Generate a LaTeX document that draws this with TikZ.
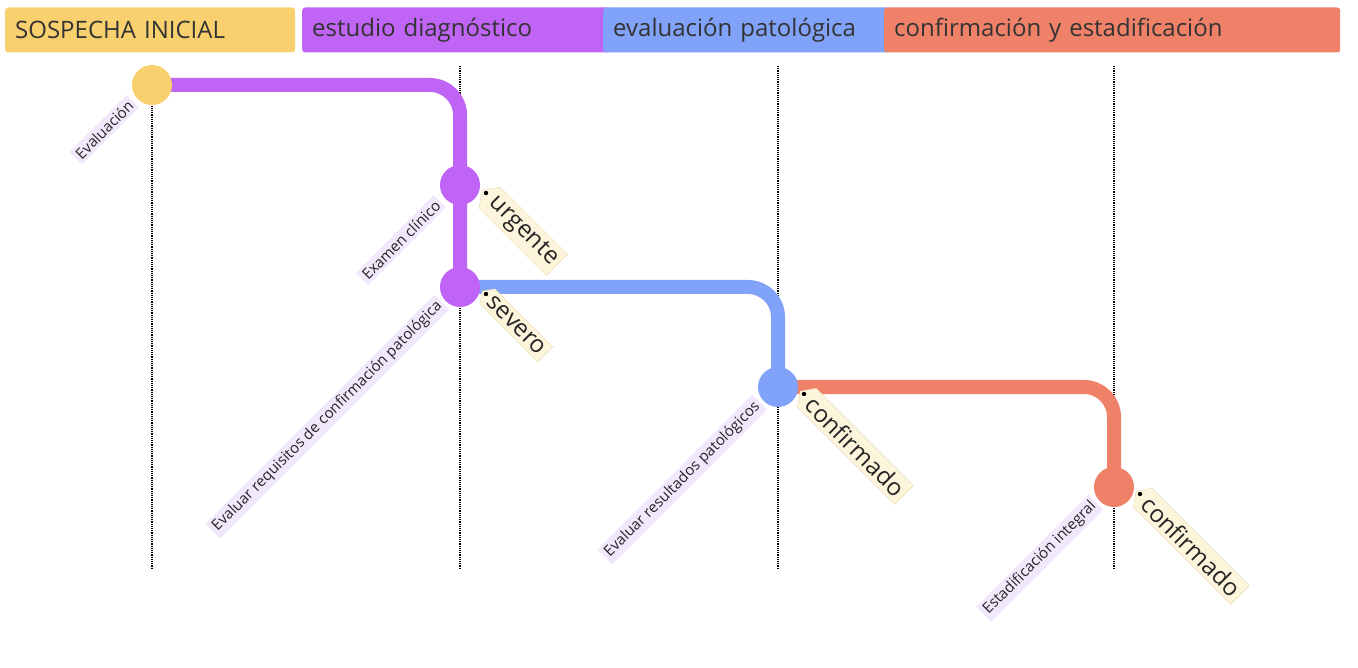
\documentclass[tikz,border=0pt]{standalone}
\usepackage{fontspec}
\setmainfont{Open Sans}
\usetikzlibrary{shapes.symbols}
\definecolor{cy}{HTML}{F8D06E}
\definecolor{cp}{HTML}{BF64F5}
\definecolor{cb}{HTML}{80A2F8}
\definecolor{cr}{HTML}{EF8169}
\definecolor{lbl}{HTML}{F1E9FB}
\definecolor{tagf}{HTML}{FDF4DC}
\definecolor{tagd}{HTML}{E8DAAE}
\tikzset{
 hdr/.style={rounded corners=3pt,minimum height=45pt,anchor=west,inner xsep=10pt,text=black!80,font=\fontsize{24}{24}\selectfont,align=left},
 vl/.style={densely dotted,line width=1.2pt},
 br/.style={line width=14pt,rounded corners=30pt},
 commitdot/.style={circle,minimum size=40pt,inner sep=0pt},
 clab/.style={fill=lbl,rotate=45,anchor=east,font=\fontsize{15}{15}\selectfont,inner sep=3pt,text=black!85},
 tg/.style={signal,signal to=west,signal pointer angle=110,fill=tagf,draw=tagd,rotate=-45,anchor=west,font=\fontsize{24}{24}\selectfont,inner xsep=4pt,inner ysep=4pt,text=black!85},
}
\begin{document}
\begin{tikzpicture}[x=1pt,y=-1pt]
\useasboundingbox (0,0) rectangle (1358,668);
\node[hdr,fill=cy,text width=270pt] (h1) at (5,30) {SOSPECHA INICIAL};
\node[hdr,fill=cp,text width=288pt] (h2) at (302,30) {estudio diagnóstico};
\node[hdr,fill=cb,text width=267pt] (h3) at (603,30) {evaluación patológica};
\node[hdr,fill=cr,text width=436pt] (h4) at (884,30) {confirmación y estadificación};
\foreach \x in {152,460,778,1114}{\draw[vl] (\x,66) -- (\x,568);}
\draw[br,cp] (152,85) -- (460,85) -- (460,287);
\draw[br,cb] (460,287) -- (778,287) -- (778,387);
\draw[br,cr] (778,387) -- (1114,387) -- (1114,487);
\node[commitdot,fill=cy] (c1) at (152,85) {};
\node[commitdot,fill=cp] (c2) at (460,185) {};
\node[commitdot,fill=cp] (c3) at (460,287) {};
\node[commitdot,fill=cb] (c4) at (778,387) {};
\node[commitdot,fill=cr] (c5) at (1114,487) {};
\node[clab] at (133,101) {Evaluación};
\node[clab] at (440,201) {Examen clínico};
\node[clab] at (442,302) {Evaluar requisitos de confirmación patológica};
\node[clab] at (760,402) {Evaluar resultados patológicos};
\node[clab] at (1096,502) {Estadificación integral};
\foreach \p/\t in {{482,190}/urgente,{482,291}/severo,{800,391}/confirmado,{1136,491}/confirmado}{
 \node[tg] at (\p) {\t};
 \fill (\p) ++(4,3) circle (2.2pt);
}
\end{tikzpicture}
\end{document}
